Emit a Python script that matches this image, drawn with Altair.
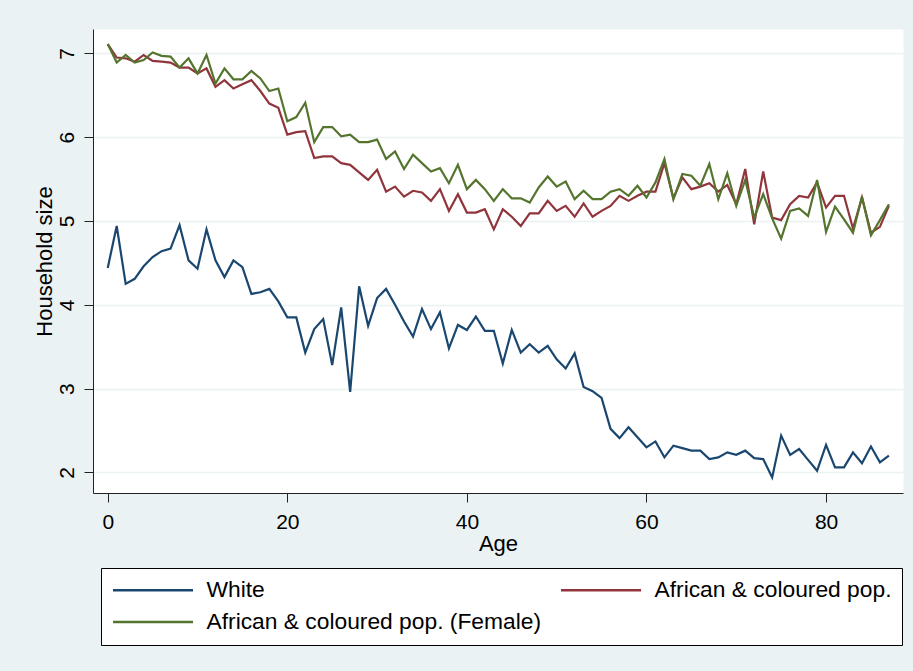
import altair as alt
import pandas as pd

ages = list(range(0, 88))

white = [4.44, 4.94, 4.25, 4.31, 4.46, 4.57, 4.64, 4.67, 4.95, 4.53,
         4.43, 4.90, 4.53, 4.33, 4.53, 4.45, 4.13, 4.15, 4.19, 4.04,
         3.85, 3.85, 3.43, 3.71, 3.83, 3.28, 3.97, 2.96, 4.22, 3.75,
         4.08, 4.19, 4.00, 3.80, 3.62, 3.95, 3.71, 3.91, 3.48, 3.76,
         3.70, 3.86, 3.69, 3.69, 3.30, 3.70, 3.43, 3.53, 3.43, 3.51,
         3.35, 3.24, 3.42, 3.02, 2.97, 2.89, 2.52, 2.41, 2.54, 2.42,
         2.30, 2.37, 2.18, 2.32, 2.29, 2.26, 2.26, 2.16, 2.18, 2.24,
         2.21, 2.26, 2.17, 2.16, 1.94, 2.44, 2.21, 2.28, 2.15, 2.02,
         2.33, 2.06, 2.06, 2.24, 2.11, 2.31, 2.12, 2.20]

african = [7.11, 6.95, 6.94, 6.90, 6.98, 6.91, 6.90, 6.89, 6.83, 6.83,
           6.76, 6.82, 6.60, 6.68, 6.58, 6.63, 6.68, 6.55, 6.40, 6.35,
           6.03, 6.06, 6.07, 5.75, 5.77, 5.77, 5.69, 5.67, 5.58, 5.49,
           5.61, 5.35, 5.41, 5.29, 5.36, 5.34, 5.24, 5.38, 5.12, 5.32,
           5.10, 5.10, 5.14, 4.90, 5.14, 5.05, 4.94, 5.09, 5.09, 5.24,
           5.12, 5.18, 5.05, 5.21, 5.05, 5.12, 5.18, 5.30, 5.24, 5.30,
           5.35, 5.35, 5.69, 5.27, 5.52, 5.38, 5.41, 5.45, 5.35, 5.43,
           5.20, 5.62, 4.96, 5.59, 5.04, 5.01, 5.20, 5.30, 5.28, 5.46,
           5.16, 5.30, 5.30, 4.91, 5.28, 4.86, 4.93, 5.18]

female = [7.11, 6.89, 6.98, 6.89, 6.92, 7.01, 6.97, 6.96, 6.83, 6.94,
          6.76, 6.98, 6.64, 6.82, 6.69, 6.69, 6.79, 6.70, 6.55, 6.58,
          6.19, 6.24, 6.41, 5.94, 6.12, 6.12, 6.01, 6.03, 5.94, 5.94,
          5.97, 5.74, 5.83, 5.62, 5.79, 5.69, 5.59, 5.63, 5.45, 5.67,
          5.38, 5.49, 5.38, 5.24, 5.38, 5.27, 5.27, 5.22, 5.40, 5.53,
          5.41, 5.47, 5.26, 5.36, 5.26, 5.26, 5.35, 5.38, 5.30, 5.42,
          5.28, 5.46, 5.74, 5.26, 5.56, 5.54, 5.42, 5.68, 5.26, 5.57,
          5.18, 5.49, 5.04, 5.32, 5.03, 4.79, 5.12, 5.15, 5.06, 5.49,
          4.87, 5.17, 5.02, 4.86, 5.29, 4.83, 5.01, 5.20]

# drawing order (bottom to top)
series_names = ["White", "African & coloured pop.", "African & coloured pop. (Female)"]
series_values = [white, african, female]
# legend order (legend fills column by column)
legend_names = ["White", "African & coloured pop. (Female)", "African & coloured pop."]
legend_colors = ["#1a476f", "#55752f", "#90353b"]
x_ticks = [0, 20, 40, 60, 80]
y_ticks = [2, 3, 4, 5, 6, 7]

rows = []
for name, vals in zip(series_names, series_values):
    for a, v in zip(ages, vals):
        rows.append({"age": a, "size": v, "series": name})
df = pd.DataFrame(rows)

FONT = "Liberation Sans"
AXC = "#222222"

x_enc = alt.X(
    "age:Q",
    scale=alt.Scale(domain=[-1.64, 88.57], nice=False, zero=False),
    axis=alt.Axis(
        values=x_ticks, title="Age", grid=False, tickSize=9, labelPadding=9,
        labelFontSize=21, labelFont=FONT, labelColor="black",
        titleFontSize=22, titleFont=FONT, titleColor="black", titleFontWeight="normal",
        titleY=50, titleBaseline="middle",
        domainColor=AXC, tickColor=AXC, domainWidth=1, tickWidth=1,
    ),
)
y_enc = alt.Y(
    "size:Q",
    scale=alt.Scale(domain=[1.755, 7.29], nice=False, zero=False),
    axis=alt.Axis(
        values=y_ticks, title="Household size", grid=True, gridColor="#eaf2f3",
        gridWidth=1.5, tickSize=9, labelPadding=7, labelAngle=270,
        labelAlign="center", labelBaseline="bottom",
        labelFontSize=21, labelFont=FONT, labelColor="black",
        titleFontSize=22, titleFont=FONT, titleColor="black", titleFontWeight="normal",
        titleX=-49, titleY=232, titleAngle=270, titleBaseline="middle",
        domainColor=AXC, tickColor=AXC, domainWidth=1, tickWidth=1,
    ),
)
color_enc = alt.Color(
    "series:N",
    scale=alt.Scale(domain=legend_names, range=legend_colors),
    legend=alt.Legend(
        title=None, orient="none", legendX=8, legendY=539, columns=2,
        columnPadding=14, rowPadding=8, padding=10.5,
        strokeColor="black", fillColor="white",
        symbolType="M-1,0H7", symbolSize=400, symbolStrokeWidth=2.5,
        labelFontSize=22.8, labelFont=FONT, labelColor="black",
        labelOffset=72, labelLimit=600,
    ),
)

layers = []
for name in series_names:
    layers.append(
        alt.Chart(df)
        .transform_filter(alt.datum.series == name)
        .mark_line(strokeWidth=2.2)
        .encode(x=x_enc, y=y_enc, color=color_enc)
    )

chart = (
    alt.layer(*layers)
    .properties(
        width=810, height=464,
        padding={"left": 93, "top": 29, "right": 10, "bottom": 178},
        autosize=alt.AutoSizeParams(type="none"),
        background="#eaf2f3",
    )
    .configure_view(fill="white", stroke="transparent")
)

chart.save("out.html", embed_options={"renderer": "svg", "actions": False})
